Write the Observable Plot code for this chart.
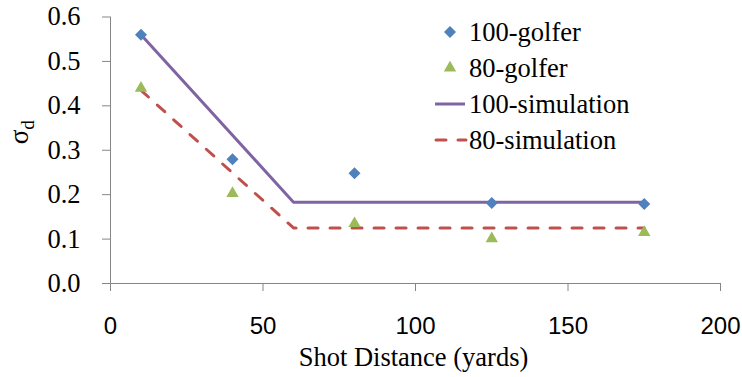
<!DOCTYPE html>
<html>
<head>
<meta charset="utf-8">
<script src="https://cdn.jsdelivr.net/npm/d3@7"></script>
<script src="https://cdn.jsdelivr.net/npm/@observablehq/plot@0.6"></script>
<style>
  body { margin: 0; background: #fff; }
  #wrap { position: relative; width: 742px; height: 377px; }
  #legend { position: absolute; left: 433px; top: 14px; font-family: "Liberation Serif", "Times New Roman", serif; font-size: 26.5px; color: #000; }
  .row { height: 36px; display: flex; align-items: center; }
  .row svg { width: 36px; height: 36px; flex: none; }
  .row span { white-space: nowrap; font-family: "Liberation Serif", "Times New Roman", serif; }
  .serif, .serif text { font-family: "Liberation Serif", "Times New Roman", serif; }
  .sans, .sans text { font-family: "Liberation Sans", Arial, sans-serif; }
</style>
</head>
<body>
<div id="wrap"></div>
<script>
// Data
const golferDist = [10, 40, 80, 125, 175];
const golfer100 = [0.56, 0.28, 0.248, 0.181, 0.179];
const golfer80 = [0.44, 0.203, 0.135, 0.101, 0.115];

const simDist = [10, 60, 175];
const sim100 = [0.56, 0.183, 0.183];
const sim80 = [0.435, 0.125, 0.125];

const xTicks = [0, 50, 100, 150, 200];
const yTicks = [0, 0.1, 0.2, 0.3, 0.4, 0.5, 0.6];

const seriesNames = ["100-golfer", "80-golfer", "100-simulation", "80-simulation"];
const colors = { blue: "#4F81BD", green: "#9BBB59", purple: "#8064A2", red: "#C0504D", axis: "#868686" };

const serif = "Liberation Serif";
const sans = "Liberation Sans";

const g100 = golferDist.map((d, i) => ({ x: d, y: golfer100[i] }));
const g80 = golferDist.map((d, i) => ({ x: d, y: golfer80[i] }));
const s100 = simDist.map((d, i) => ({ x: d, y: sim100[i] }));
const s80 = simDist.map((d, i) => ({ x: d, y: sim80[i] }));

const dash = "10,12";

const chart = Plot.plot({
  width: 742,
  height: 377,
  marginLeft: 110,
  marginRight: 22,
  marginTop: 16.5,
  marginBottom: 94,
  style: { background: "#fff", color: "#000", overflow: "visible" },
  x: { domain: [0, 200] },
  y: { domain: [0, 0.6] },
  marks: [
    Plot.axisY({ ticks: yTicks, tickSize: 8, tickPadding: 22, tickFormat: d3.format(".1f"), fontSize: 26.5, fontFamily: serif, stroke: colors.axis, fill: "#000", label: null, className: "serif" }),
    Plot.axisX({ ticks: xTicks, tickSize: 8, tickPadding: 25, fontSize: 24, fontFamily: sans, stroke: colors.axis, fill: "#000", label: null, className: "sans" }),
    Plot.ruleX([0], { y1: 0, y2: 0.6, stroke: colors.axis }),
    Plot.ruleY([0], { stroke: colors.axis }),
    Plot.line(s100, { x: "x", y: "y", stroke: colors.purple, strokeWidth: 3 }),
    Plot.line(s80, { x: "x", y: "y", stroke: colors.red, strokeWidth: 3, strokeDasharray: dash, strokeLinecap: "round" }),
    Plot.dot(g100, { x: "x", y: "y", symbol: "diamond2", r: 5.4, fill: colors.blue }),
    Plot.dot(g80, { x: "x", y: "y", symbol: "triangle", r: 4.6, fill: colors.green }),
    Plot.text(["Shot Distance (yards)"], { frameAnchor: "bottom", lineAnchor: "middle", dy: 74, dx: -2, fontSize: 26.5, fontFamily: serif, fill: "#000", className: "serif" }),
    Plot.text(["σd"], { frameAnchor: "left", lineAnchor: "middle", dx: -91, dy: -6, rotate: -90, fontSize: 27, fontFamily: serif, fill: "#000", className: "serif ylab" })
  ]
});

document.getElementById("wrap").appendChild(chart);

// subscript on the y label
d3.select(chart).selectAll(".ylab text").each(function () {
  const t = d3.select(this);
  t.text("σ");
  t.append("tspan").attr("dy", "0.3em").attr("font-size", "19").text("d");
});

// legend
const legend = d3.select("#wrap").append("div").attr("id", "legend");
const swatch = [
  s => s.append("path").attr("d", d3.symbol(d3.symbolDiamond2, Math.PI * 5.4 * 5.4)()).attr("transform", "translate(17,18)").attr("fill", colors.blue),
  s => s.append("path").attr("d", d3.symbol(d3.symbolTriangle, Math.PI * 4.6 * 4.6)()).attr("transform", "translate(17,18)").attr("fill", colors.green),
  s => s.append("line").attr("x1", 2).attr("x2", 32).attr("y1", 18).attr("y2", 18).attr("stroke", colors.purple).attr("stroke-width", 3),
  s => s.append("line").attr("x1", 3).attr("x2", 33).attr("y1", 18).attr("y2", 18).attr("stroke", colors.red).attr("stroke-width", 3).attr("stroke-dasharray", dash).attr("stroke-linecap", "round")
];
seriesNames.forEach((name, i) => {
  const row = legend.append("div").attr("class", "row");
  const s = row.append("svg").attr("viewBox", "0 0 36 36");
  swatch[i](s);
  row.append("span").text(name);
});
</script>
</body>
</html>
